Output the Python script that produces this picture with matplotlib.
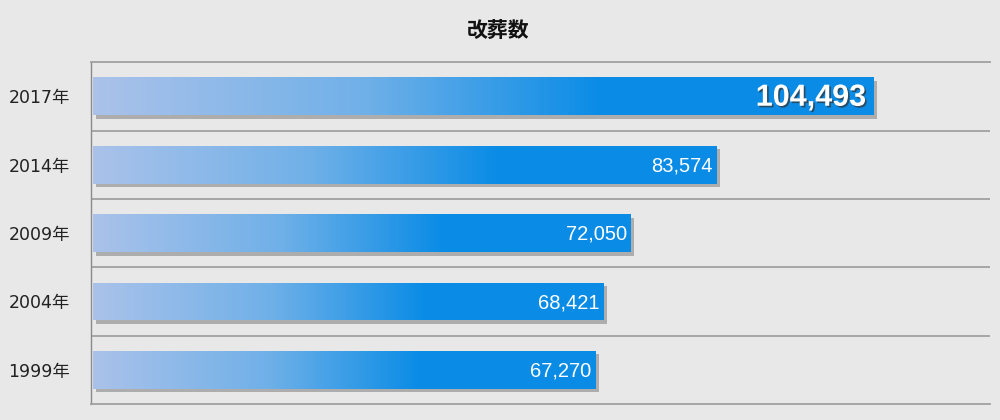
import matplotlib
matplotlib.use("Agg")
import matplotlib.pyplot as plt
import matplotlib.patheffects as pe
import numpy as np
from matplotlib.colors import LinearSegmentedColormap

years = ["2017年", "2014年", "2009年", "2004年", "1999年"]
values = [104493, 83574, 72050, 68421, 67270]
title = "改葬数"

bg = "#e8e8e8"
fig = plt.figure(figsize=(10, 4.2), dpi=100, facecolor=bg)
ax = fig.add_axes([0.091, 0.038, 0.899, 0.814], facecolor=bg)

cmap = LinearSegmentedColormap.from_list(
    "bar", [(0, "#aac2ea"), (0.35, "#6fb0e8"), (0.65, "#0a8ce6"), (1, "#0a8ce6")])
grad = np.linspace(0, 1, 256).reshape(1, -1)

pos = np.arange(len(years))
h = 0.555
bars = ax.barh(pos, values, height=h, color="#0a8ce6", zorder=3,
               path_effects=[pe.SimplePatchShadow(offset=(2.5, -2.5), shadow_rgbFace="#666666", alpha=0.45),
                             pe.Normal()])
for b, y, v in zip(bars, pos, values):
    im = ax.imshow(grad, cmap=cmap, aspect="auto", extent=(0, v, y + h / 2, y - h / 2),
                   zorder=4, interpolation="bilinear")
    im.set_clip_path(b)

for i, (y, v) in enumerate(zip(pos, values)):
    if i == 0:
        t = ax.annotate(f"{v:,}", (v, y), xytext=(-5, -1), textcoords="offset points",
                        ha="right", va="center", color="white", fontsize=22, fontweight="bold",
                        family="Liberation Sans", zorder=6)
        t.set_path_effects([pe.withSimplePatchShadow(offset=(1.2, -1.2), shadow_rgbFace="#333333", alpha=0.7)])
    else:
        ax.annotate(f"{v:,}", (v, y), xytext=(-3, -1), textcoords="offset points",
                    ha="right", va="center", color="white", fontsize=14.5,
                    family="Liberation Sans", zorder=6)

ax.set_xlim(-270, 120160)
ax.set_ylim(len(years) - 0.5, -0.5)
ax.set_yticks(pos)
ax.set_yticklabels(years, family=["DejaVu Sans", "Noto Sans CJK JP"], fontsize=12.5, color="#222222")
ax.tick_params(axis="y", length=0, pad=15)
ax.set_xticks([])

for yb in np.arange(0.5, len(years) - 0.5, 1):
    ax.axhline(yb, color="#a0a0a0", lw=1.3, zorder=1)
for s in ["top", "bottom"]:
    ax.spines[s].set_color("#a0a0a0")
    ax.spines[s].set_linewidth(1.3)
ax.spines["left"].set_color("#8a8a8a")
ax.spines["left"].set_linewidth(1.0)
ax.spines["right"].set_visible(False)

fig.text(0.498, 0.928, title, ha="center", va="center", fontsize=15, fontweight="bold",
         family=["Noto Sans CJK JP", "DejaVu Sans"], color="#111111")

fig.savefig("out.png", dpi=100, facecolor=bg)
